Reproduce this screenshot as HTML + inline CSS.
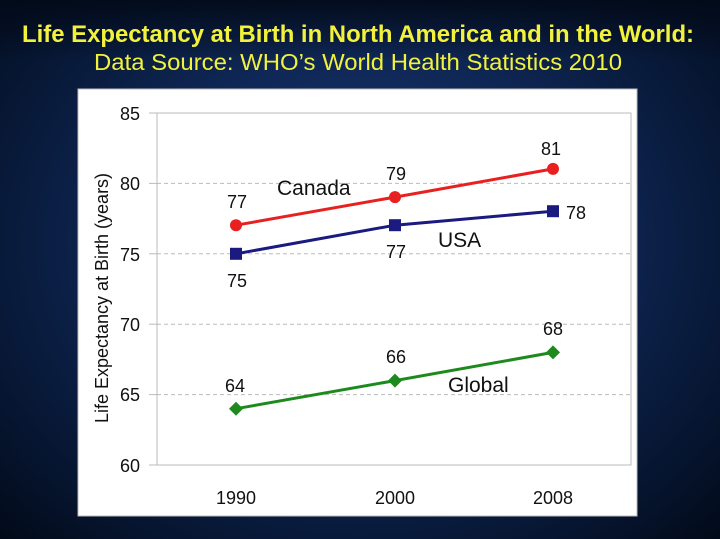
<!DOCTYPE html>
<html><head><style>
html,body{margin:0;padding:0;}
body{width:720px;height:539px;overflow:hidden;background:radial-gradient(ellipse at 50% 45%,#1a3a78 0%,#0f2755 45%,#061530 80%,#020a18 100%);font-family:"Liberation Sans",Arial,sans-serif;position:relative;}
</style></head><body>
<svg width="720" height="539" style="position:absolute;left:0;top:0">
<defs><linearGradient id="tg" x1="0" y1="0" x2="0" y2="1"><stop offset="0" stop-color="#020a18" stop-opacity="0.9"/><stop offset="1" stop-color="#020a18" stop-opacity="0"/></linearGradient></defs>
<rect x="0" y="0" width="720" height="60" fill="url(#tg)"/>
<text x="358" y="42" fill="#f2f23c" font-size="24" font-weight="bold" text-anchor="middle" font-family="Liberation Sans" textLength="672" lengthAdjust="spacingAndGlyphs">Life Expectancy at Birth in North America and in the World:</text>
<text x="358" y="70" fill="#f2f23c" font-size="23" text-anchor="middle" font-family="Liberation Sans" textLength="528" lengthAdjust="spacingAndGlyphs">Data Source: WHO’s World Health Statistics 2010</text>
<rect x="78" y="89" width="559" height="427" fill="#fff" stroke="#bbb"/>
<g stroke="#bbb" stroke-width="1" stroke-dasharray="4,3">
<line x1="157" y1="183.4" x2="631" y2="183.4"/>
<line x1="157" y1="253.8" x2="631" y2="253.8"/>
<line x1="157" y1="324.2" x2="631" y2="324.2"/>
<line x1="157" y1="394.6" x2="631" y2="394.6"/>
</g>
<rect x="157" y="113" width="474" height="352" fill="none" stroke="#bbb"/>
<g stroke="#bbb"><line x1="149" y1="113" x2="157" y2="113"/><line x1="149" y1="183.4" x2="157" y2="183.4"/><line x1="149" y1="253.8" x2="157" y2="253.8"/><line x1="149" y1="324.2" x2="157" y2="324.2"/><line x1="149" y1="394.6" x2="157" y2="394.6"/><line x1="149" y1="465" x2="157" y2="465"/></g>
<g font-size="18" fill="#111" text-anchor="end" font-family="Liberation Sans">
<text x="140" y="120">85</text><text x="140" y="190">80</text><text x="140" y="261">75</text><text x="140" y="331">70</text><text x="140" y="401">65</text><text x="140" y="472">60</text>
</g>
<g font-size="18" fill="#111" text-anchor="middle" font-family="Liberation Sans">
<text x="236" y="504">1990</text><text x="395" y="504">2000</text><text x="553" y="504">2008</text>
</g>
<text transform="translate(108,298) rotate(-90)" font-size="18" fill="#111" text-anchor="middle" font-family="Liberation Sans">Life Expectancy at Birth (years)</text>
<polyline points="236,225.2 395,197.1 553,168.9" fill="none" stroke="#e82020" stroke-width="3"/>
<circle cx="236" cy="225.2" r="6" fill="#e82020"/><circle cx="395" cy="197.1" r="6" fill="#e82020"/><circle cx="553" cy="168.9" r="6" fill="#e82020"/>
<polyline points="236,253.8 395,225.2 553,211.2" fill="none" stroke="#1a1a80" stroke-width="3"/>
<rect x="230" y="247.8" width="12" height="12" fill="#1a1a80"/><rect x="389" y="219.2" width="12" height="12" fill="#1a1a80"/><rect x="547" y="205.2" width="12" height="12" fill="#1a1a80"/>
<polyline points="236,408.7 395,380.6 553,352.4" fill="none" stroke="#1e8a1e" stroke-width="3"/>
<g fill="#1e8a1e"><polygon points="236,401.7 243,408.7 236,415.7 229,408.7"/><polygon points="395,373.6 402,380.6 395,387.6 388,380.6"/><polygon points="553,345.4 560,352.4 553,359.4 546,352.4"/></g>
<g font-size="18" fill="#111" text-anchor="middle" font-family="Liberation Sans">
<text x="237" y="208">77</text><text x="396" y="180">79</text><text x="551" y="155">81</text>
<text x="237" y="287">75</text><text x="396" y="258">77</text><text x="576" y="219">78</text>
<text x="235" y="392">64</text><text x="396" y="363">66</text><text x="553" y="335">68</text>
</g>
<g font-size="21" fill="#111" font-family="Liberation Sans">
<text x="277" y="195">Canada</text><text x="438" y="247">USA</text><text x="448" y="392">Global</text>
</g>
</svg>
</body></html>
